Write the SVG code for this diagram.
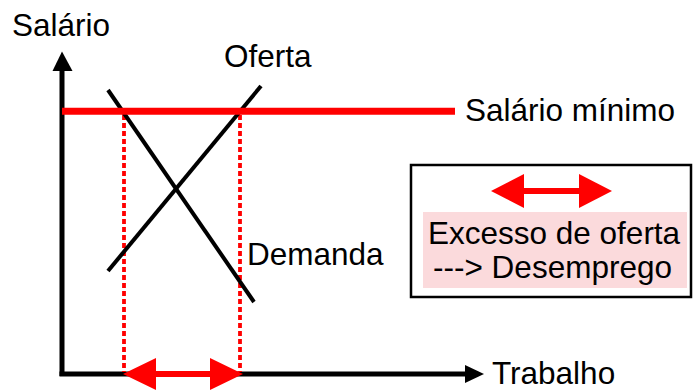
<svg xmlns="http://www.w3.org/2000/svg" width="695" height="392" viewBox="0 0 695 392">
<style>
text{font-family:"Liberation Sans",Arial,sans-serif;font-size:31.5px;fill:#000}
.ax{stroke:#000;stroke-width:5;fill:none}
.curve{stroke:#000;stroke-width:4;fill:none}
.dot{stroke:#ff0000;stroke-width:3.8;stroke-dasharray:5 3;fill:none}
.red{fill:#ff0000}
</style>
<rect width="695" height="392" fill="#fff"/>
<g id="axes">
<line class="ax" x1="62" y1="68" x2="62" y2="376"/>
<polygon points="62,51.5 52.5,71 72.5,71" fill="#000"/>
<line class="ax" x1="59.5" y1="374" x2="467" y2="374"/>
<polygon points="484,374 465,365 465,383" fill="#000"/>
<text x="12" y="36">Salário</text>
<text x="492" y="383.5">Trabalho</text>
</g>
<g id="connectors">
<line class="dot" x1="124" y1="115" x2="124" y2="372"/>
<line class="dot" x1="240" y1="115" x2="240" y2="372"/>
</g>
<g id="demanda">
<line class="curve" x1="108" y1="90" x2="254" y2="302"/>
<text x="247" y="265">Demanda</text>
</g>
<g id="oferta">
<line class="curve" x1="108" y1="271" x2="261" y2="86"/>
<text x="224" y="67">Oferta</text>
</g>
<g id="salario-minimo">
<line x1="62" y1="111.3" x2="455" y2="111.3" stroke="#ff0000" stroke-width="7"/>
<text x="465" y="121">Salário mínimo</text>
</g>
<g id="excesso-arrow">
<rect x="150" y="371" width="70" height="6" class="red"/>
<polygon points="123,374 156,358 156,390" class="red"/>
<polygon points="243,374 210,358 210,390" class="red"/>
</g>
<g id="legend">
<rect x="411" y="165" width="280" height="132" fill="#fff" stroke="#000" stroke-width="2.5"/>
<rect x="520" y="188" width="62" height="6" class="red"/>
<polygon points="491,191 524,174 524,208" class="red"/>
<polygon points="612,191 579,174 579,208" class="red"/>
<rect x="423" y="212" width="264" height="76" fill="#fbdadc"/>
<text x="428" y="244">Excesso de oferta</text>
<text x="433" y="278">---&gt; Desemprego</text>
</g>
</svg>
